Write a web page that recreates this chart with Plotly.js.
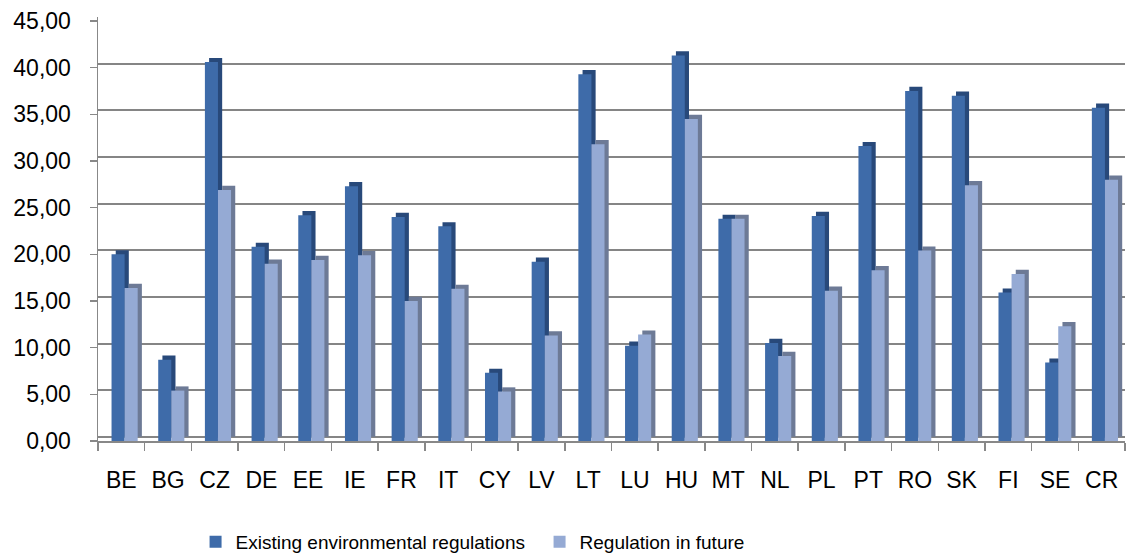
<!DOCTYPE html>
<html>
<head>
<meta charset="utf-8">
<script src="https://cdn.plot.ly/plotly-3.0.1.min.js"></script>
<style>html,body{margin:0;padding:0;background:#fff;}#chart{width:1126px;height:556px;}</style>
</head>
<body>
<div id="chart"></div>
<script>
const countries = ["BE","BG","CZ","DE","EE","IE","FR","IT","CY","LV","LT","LU","HU","MT","NL","PL","PT","RO","SK","FI","SE","CR"];
const existing = [20.0, 8.7, 40.6, 20.8, 24.2, 27.3, 24.0, 23.0, 7.3, 19.2, 39.3, 10.2, 41.3, 23.8, 10.5, 24.1, 31.6, 37.5, 37.0, 15.9, 8.4, 35.7];
const future   = [16.4, 5.4, 26.9, 19.0, 19.4, 19.9, 15.0, 16.3, 5.3, 11.3, 31.8, 11.4, 34.5, 23.8, 9.1, 16.1, 18.3, 20.4, 27.4, 17.9, 12.3, 28.0];
const yTicks = [0, 5, 10, 15, 20, 25, 30, 35, 40, 45];
const yTickLabels = ["0,00","5,00","10,00","15,00","20,00","25,00","30,00","35,00","40,00","45,00"];
const seriesNames = ["Existing environmental regulations", "Regulation in future"];

const darkFront = '#3E6BA9', darkSide = '#28497A';
const lightFront = '#95AAD4', lightSide = '#6D7A96';
const W = 0.28, DEPTH = 0.09, LIFT = 0.45;

function sideTrace(vals, off, col){
  return {type:'bar', x:countries, y:vals, base:LIFT, offset:off+DEPTH, width:W,
    marker:{color:col, line:{width:0}}, showlegend:false, hoverinfo:'skip', yaxis:'y'};
}
function frontTrace(vals, off, col, name){
  return {type:'bar', x:countries, y:vals, offset:off, width:W, name:name,
    marker:{color:col, line:{width:0}}, hoverinfo:'skip', yaxis:'y'};
}
const gridTrace = {type:'scatter', x:[countries[0]], y:[0], mode:'none', showlegend:false, hoverinfo:'skip', yaxis:'y2'};

const data = [
  gridTrace,
  sideTrace(existing, -0.21, darkSide),
  frontTrace(existing, -0.21, darkFront, seriesNames[0]),
  sideTrace(future, 0.07, lightSide),
  frontTrace(future, 0.07, lightFront, seriesNames[1])
];

const layout = {
  width:1126, height:556,
  margin:{l:98, r:1, t:17, b:115, autoexpand:false},
  paper_bgcolor:'#fff', plot_bgcolor:'rgba(0,0,0,0)',
  barmode:'overlay',
  font:{family:'Liberation Sans, Arial, sans-serif', color:'#000'},
  xaxis:{type:'category', showgrid:false, showline:true, linecolor:'#888888', linewidth:1.5,
    ticks:'outside', tickson:'boundaries', ticklen:8, tickcolor:'#888888', tickwidth:1.5,
    tickfont:{size:23, family:'Liberation Sans, Arial, sans-serif'}, ticklabelstandoff:18,
    range:[-0.5, 21.5], fixedrange:true, automargin:false},
  yaxis:{range:[0, 45.43], tickvals:yTicks, ticktext:yTickLabels, showgrid:false, zeroline:false,
    showline:true, linecolor:'#888888', linewidth:1.5, ticks:'outside', ticklen:7,
    tickcolor:'#888888', tickwidth:1.5, tickfont:{size:23}, ticklabelstandoff:14, fixedrange:true, automargin:false},
  yaxis2:{overlaying:'y', side:'left', range:[-0.43, 45.0], tickvals:yTicks, showticklabels:false,
    showgrid:true, gridcolor:'#858585', gridwidth:1.8, zeroline:false, showline:false, ticks:'', fixedrange:true},
  legend:{orientation:'h', x:0.095, xanchor:'left', y:-0.238, yanchor:'middle',
    font:{size:19}, entrywidth:299, entrywidthmode:'pixels', traceorder:'normal', bgcolor:'rgba(0,0,0,0)'},
  showlegend:true
};
Plotly.newPlot('chart', data, layout, {displayModeBar:false, staticPlot:true});
</script>
</body>
</html>
